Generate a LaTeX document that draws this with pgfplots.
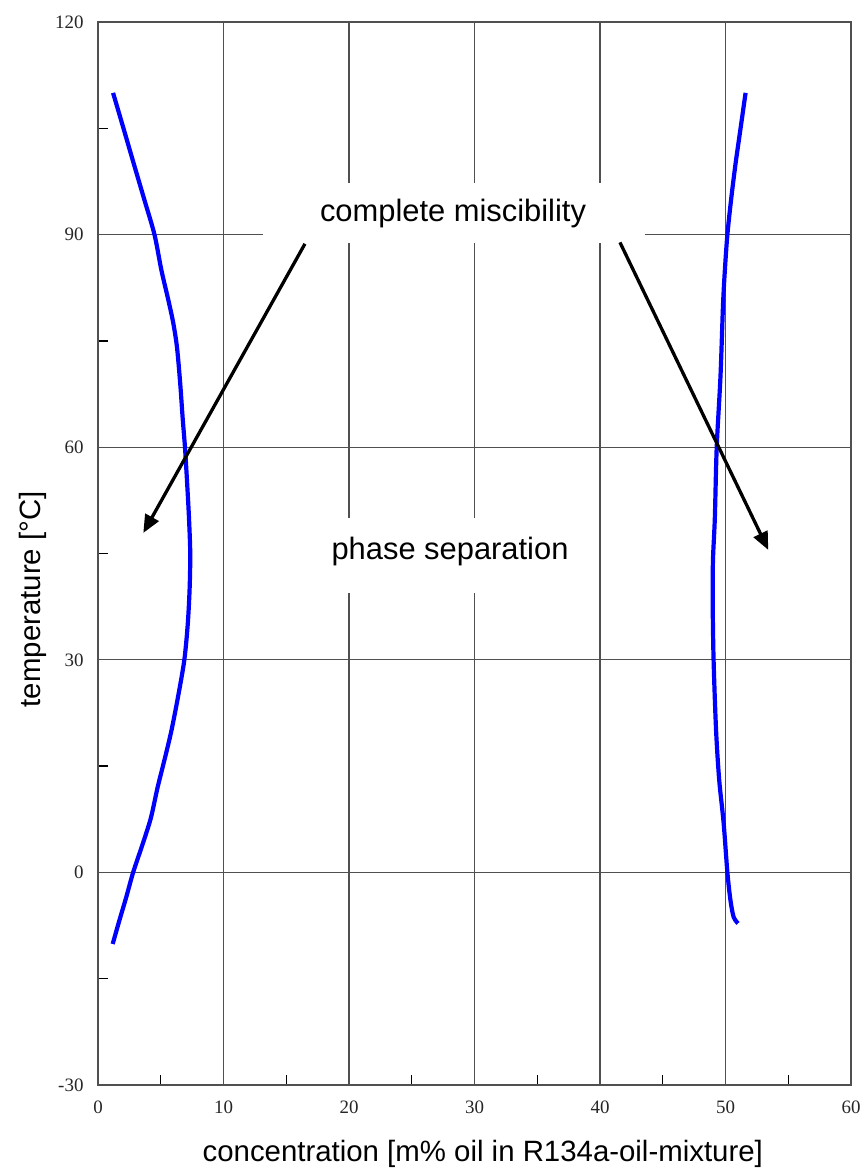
\documentclass[border=0pt]{standalone}
\usepackage{pgfplots}
\pgfplotsset{compat=1.18}
\usetikzlibrary{arrows.meta}
\usepackage{fontspec}
\setmainfont{Liberation Sans}
\newfontfamily\tickfont{Liberation Serif}
\definecolor{gridgray}{HTML}{505050}
\begin{document}
\begin{tikzpicture}
\useasboundingbox (-98bp,-84bp) rectangle (765bp,1085bp);
\begin{axis}[
  scale only axis, width=753bp, height=1063bp,
  xmin=0, xmax=60, ymin=-30, ymax=120,
  xtick={0,10,...,60}, ytick={-30,0,...,120},
  minor xtick={5,15,...,55}, minor ytick={-15,15,...,105},
  grid=major,
  major grid style={line width=1.3bp, color=gridgray},
  axis line style={line width=1.5bp, color=gridgray},
  tick align=inside, xtick pos=bottom, ytick pos=left,
  major tick length=0pt, minor tick length=10bp,
  minor tick style={line width=1.3bp, black},
  /pgf/number format/assume math mode=true,
  ticklabel style={font=\fontsize{19}{19}\tickfont, text=black!85},
  xticklabel style={yshift=-12bp},
  yticklabel style={xshift=-11bp},
  xlabel={concentration [m\% oil in R134a-oil-mixture]},
  ylabel={temperature [°C]},
  label style={font=\fontsize{29.5}{30}\selectfont},
  xlabel style={at={(axis description cs:0.511,-0.0715)}, anchor=base},
  ylabel style={at={(axis description cs:-0.077,0.457)}, anchor=base},
]
\fill[white] (axis cs:13.15,88.82) rectangle (axis cs:43.6,97.28);
\fill[white] (axis cs:18.0,39.43) rectangle (axis cs:39.8,50.0);

\addplot[color={rgb,255:red,0;green,0;blue,255}, line width=4.2bp, smooth, tension=0.5] coordinates {
(1.2,110) (2.03,105) (2.85,100) (3.68,95) (4.5,90)
(5.05,85) (5.6,80.8) (6.0,77.5) (6.3,74) (6.55,69) (6.75,64) (6.93,60)
(7.1,55) (7.25,50) (7.35,45) (7.3,40) (7.15,35) (6.88,30) (6.4,25)
(5.85,20) (5.3,15.9) (4.75,12) (4.2,7.6) (3.5,3.7) (2.8,0) (2.25,-3.5)
(1.7,-6.8) (1.17,-10.1)
};
\addplot[color={rgb,255:red,0;green,0;blue,255}, line width=4.2bp, smooth, tension=0.5] coordinates {
(51.6,110) (51.2,105) (50.8,100) (50.45,95) (50.15,90) (49.95,85)
(49.8,80) (49.6,70) (49.3,60) (49.15,50) (49.0,44) (48.98,38)
(49.05,30) (49.25,20) (49.5,13) (49.85,7) (50.15,0) (50.4,-4)
(50.65,-6.3) (51.0,-7.2)
};

\draw[-{Triangle[length=18bp,width=15bp]}, line width=3.3bp, black]
  (axis cs:16.49,88.7) -- (axis cs:3.61,47.9);
\draw[-{Triangle[length=18bp,width=15bp]}, line width=3.3bp, black]
  (axis cs:41.59,88.9) -- (axis cs:53.41,45.5);

\node[anchor=base, font=\fontsize{31}{31}\selectfont, inner sep=0pt]
  at (axis cs:28.29,91.78) {complete miscibility};
\node[anchor=base, font=\fontsize{31}{31}\selectfont, inner sep=0pt]
  at (axis cs:28.05,44.18) {phase separation};
\end{axis}
\end{tikzpicture}
\end{document}
